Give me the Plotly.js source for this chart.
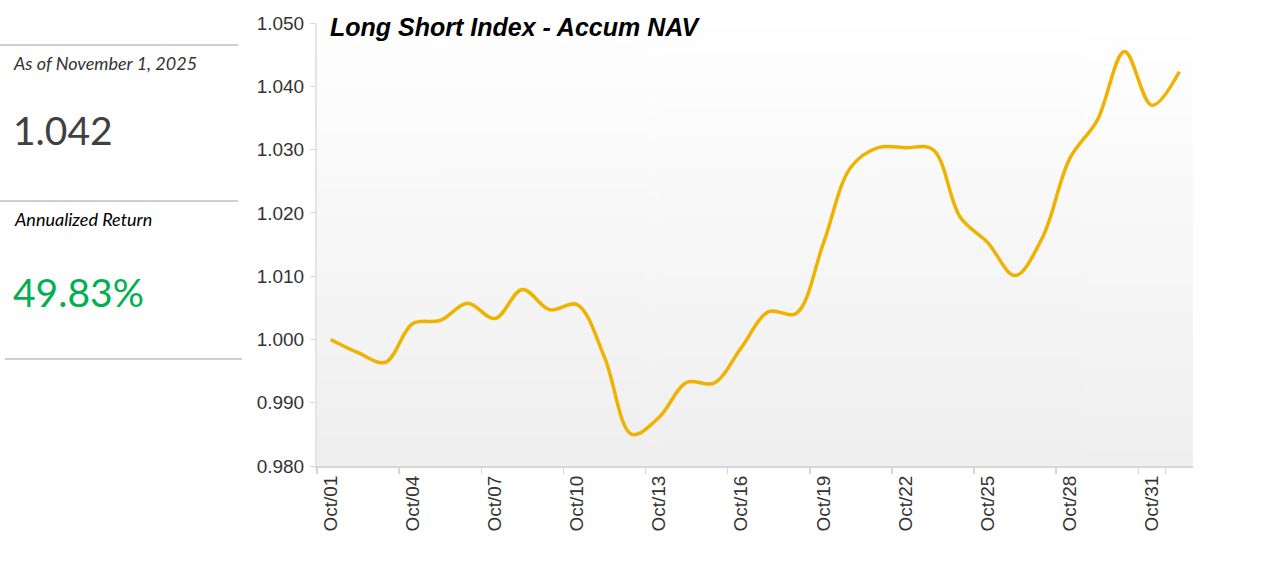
<!DOCTYPE html>
<html>
<head>
<meta charset="utf-8">
<script src="https://cdn.plot.ly/plotly-3.0.1.min.js"></script>
<style>html,body{margin:0;padding:0;background:#fff;}#chart{width:1280px;height:581px;}</style>
</head>
<body>
<div id="chart"></div>
<script>
// ---- data ----
const dates = ['Oct/01','Oct/02','Oct/03','Oct/04','Oct/05','Oct/06','Oct/07','Oct/08','Oct/09','Oct/10',
  'Oct/11','Oct/12','Oct/13','Oct/14','Oct/15','Oct/16','Oct/17','Oct/18','Oct/19','Oct/20',
  'Oct/21','Oct/22','Oct/23','Oct/24','Oct/25','Oct/26','Oct/27','Oct/28','Oct/29','Oct/30',
  'Oct/31','Nov/01'];
const nav = [1.0000, 0.9979, 0.9964, 1.0025, 1.0030, 1.0057, 1.0033, 1.0079, 1.0047, 1.0055,
  0.9972, 0.9850, 0.9877, 0.9932, 0.9931, 0.9987, 1.0044, 1.0041, 1.0152, 1.0272,
  1.0303, 1.0303, 1.0300, 1.0193, 1.0153, 1.0101, 1.0161, 1.0286, 1.0346, 1.0455,
  1.0370, 1.0423];
const xTickLabels = ['Oct/01','Oct/04','Oct/07','Oct/10','Oct/13','Oct/16','Oct/19','Oct/22','Oct/25','Oct/28','Oct/31'];
const yTicks = [0.98, 0.99, 1.00, 1.01, 1.02, 1.03, 1.04, 1.05];
const chartTitle = 'Long Short Index - Accum NAV';
const asOfText = 'As of November 1, 2025';
const latestNav = '1.042';
const annReturnLabel = 'Annualized Return';
const annReturnValue = '49.83%';

// ---- layout geometry ----
const W = 1280, H = 581;
const M = {l: 317, r: 87, t: 23, b: 115};
const pw = W - M.l - M.r, ph = H - M.t - M.b;
const px = v => (v - M.l) / pw;           // pixel x -> paper x
const py = v => 1 - (v - M.t) / ph;        // pixel y -> paper y

// gradient background image
const cv = document.createElement('canvas');
cv.width = 4; cv.height = 256;
const ctx = cv.getContext('2d');
const g = ctx.createLinearGradient(0, 0, 0, 256);
g.addColorStop(0, '#ffffff');
g.addColorStop(1, '#efefef');
ctx.fillStyle = g; ctx.fillRect(0, 0, 4, 256);
const bgURI = cv.toDataURL('image/png');

const trace = {
  x: dates, y: nav, type: 'scatter', mode: 'lines',
  line: {color: '#EFB200', width: 3.5, shape: 'spline', smoothing: 1},
  hoverinfo: 'x+y'
};

const panelFont = 'Lato, "Open Sans", sans-serif';
const sepLine = (y, x0, x1) => ({type: 'line', xref: 'paper', yref: 'paper',
  x0: px(x0), x1: px(x1), y0: py(y), y1: py(y), line: {color: '#cfcfcf', width: 2}});

const layout = {
  width: W, height: H,
  margin: M,
  paper_bgcolor: '#ffffff',
  plot_bgcolor: 'rgba(0,0,0,0)',
  showlegend: false,
  font: {family: '"Liberation Sans", Arial, sans-serif', color: '#333'},
  title: {text: chartTitle, x: 330 / W, xanchor: 'left', y: 1 - 27 / H, yanchor: 'middle',
    font: {size: 25, color: '#000', family: '"Liberation Sans", Arial, sans-serif', weight: 'bold', style: 'italic'}},
  xaxis: {
    type: 'category', range: [-0.5, dates.length - 0.5],
    tickmode: 'array', tickvals: xTickLabels, ticktext: xTickLabels,
    tickson: 'boundaries', ticks: 'outside', ticklen: 6, tickwidth: 1.5, tickcolor: '#d6d6d6',
    tickangle: -90, tickfont: {size: 19, color: '#333'},
    showline: true, linecolor: '#d6d6d6', linewidth: 2,
    showgrid: false, zeroline: false, fixedrange: true
  },
  yaxis: {
    range: [0.98, 1.05], tickmode: 'array', tickvals: yTicks, tickformat: '.3f',
    ticks: 'outside', ticklen: 5, tickwidth: 1, tickcolor: '#d6d6d6',
    tickfont: {size: 19, color: '#333'}, ticklabelstandoff: 2,
    showline: true, linecolor: '#e4e4e4', linewidth: 2,
    showgrid: false, zeroline: false, fixedrange: true
  },
  images: [{source: bgURI, xref: 'paper', yref: 'paper', x: 0, y: 1, sizex: 1, sizey: 1,
    xanchor: 'left', yanchor: 'top', sizing: 'stretch', layer: 'below'}],
  shapes: [sepLine(45, 0, 238), sepLine(201, 0, 238), sepLine(359, 5, 242)],
  annotations: [
    {text: asOfText, xref: 'paper', yref: 'paper', x: px(11), y: py(63), xanchor: 'left', yanchor: 'middle',
      showarrow: false, font: {family: panelFont, size: 18, color: '#333', style: 'italic'}},
    {text: latestNav, xref: 'paper', yref: 'paper', x: px(11), y: py(130), xanchor: 'left', yanchor: 'middle',
      showarrow: false, font: {family: panelFont, size: 39, color: '#404040'}},
    {text: annReturnLabel, xref: 'paper', yref: 'paper', x: px(12), y: py(219), xanchor: 'left', yanchor: 'middle',
      showarrow: false, font: {family: panelFont, size: 18, color: '#000', style: 'italic'}},
    {text: annReturnValue, xref: 'paper', yref: 'paper', x: px(11), y: py(292), xanchor: 'left', yanchor: 'middle',
      showarrow: false, font: {family: panelFont, size: 39, color: '#00B050'}}
  ]
};

Plotly.newPlot('chart', [trace], layout, {displayModeBar: false, staticPlot: true});
</script>
</body>
</html>
